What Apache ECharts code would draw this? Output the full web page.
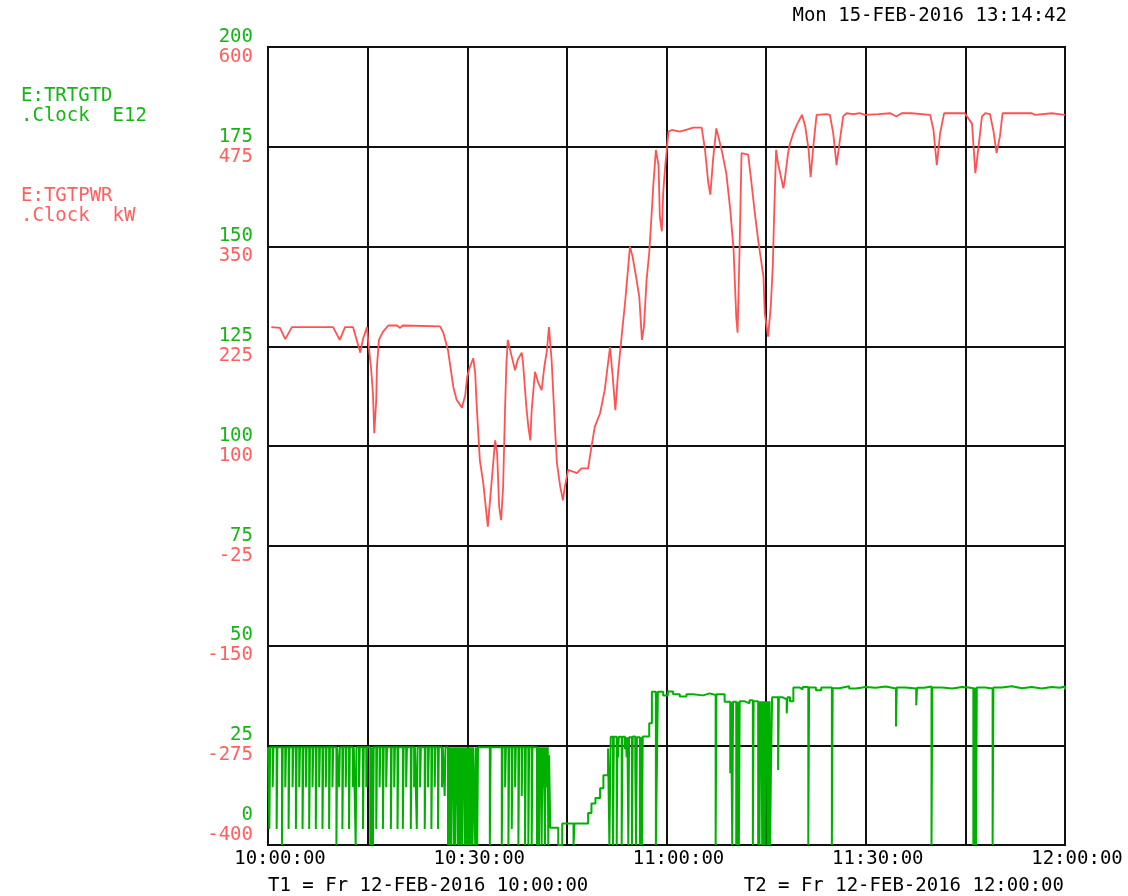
<!DOCTYPE html>
<html>
<head>
<meta charset="utf-8">
<script src="https://cdn.jsdelivr.net/npm/echarts@6/dist/echarts.min.js"></script>
<style>
html,body{margin:0;padding:0;background:#fff;}
#chart{width:1128px;height:896px;}
</style>
</head>
<body>
<div id="chart"></div>
<script>
// ---- data (x in minutes after 10:00:00 on 12-FEB-2016) ----
const xTickLabels = ['10:00:00', '10:30:00', '11:00:00', '11:30:00', '12:00:00'];
const greenAxisTicks = [0, 25, 50, 75, 100, 125, 150, 175, 200];
const redAxisTicks = [-400, -275, -150, -25, 100, 225, 350, 475, 600];

// E:TGTPWR .Clock kW  (red, second scale)
const redSeries = [
[0.5,249],[1.8,248],[2.6,234],[3.6,249],[9.8,249],[10.8,233],[11.6,249],[12.8,249],[13.9,217],[14.3,234],
[14.9,249],[15.1,230],[15.5,199],[15.8,166],[16.0,116],[16.3,158],[16.4,199],[16.7,233],[17.3,243],[18.1,251],
[19.4,251],[19.9,248],[20.3,251],[25.9,250],[26.4,242],[27.1,220],[27.9,174],[28.4,158],[29.2,148],[29.7,164],
[30.0,187],[30.4,199],[30.9,210],[31.2,191],[31.4,154],[31.9,82],[32.4,54],[33.1,-1],[33.4,29],[33.8,68],
[34.2,107],[34.5,91],[34.8,24],[35.1,7],[35.4,49],[35.7,149],[35.9,204],[36.1,233],[36.7,212],[37.2,195],
[37.6,208],[38.2,217],[38.4,204],[38.9,149],[39.2,124],[39.5,107],[39.7,145],[40.2,193],[40.7,179],[41.2,170],
[41.6,199],[42.0,220],[42.3,249],[42.7,208],[43.2,124],[43.5,79],[44.0,49],[44.4,32],[44.7,49],[45.2,70],
[45.9,68],[46.5,66],[47.2,72],[48.2,72],[48.7,99],[49.2,124],[50.0,141],[50.7,170],[51.2,204],[51.5,224],
[51.9,187],[52.3,145],[52.7,191],[53.3,242],[53.8,283],[54.5,350],[54.9,337],[55.5,308],[55.9,287],[56.3,233],
[56.6,249],[57.0,308],[57.4,342],[57.8,396],[58.0,425],[58.4,471],[58.8,452],[59.0,387],[59.3,369],[59.5,417],
[59.8,450],[60.3,494],[60.8,496],[62.0,494],[63.3,497],[64.0,499],[65.3,499],[65.8,471],[66.3,429],[66.6,415],
[67.0,458],[67.5,498],[67.8,488],[68.3,471],[69.0,442],[69.6,396],[70.1,346],[70.5,262],[70.7,242],[71.0,346],
[71.3,467],[72.3,465],[72.8,429],[73.3,392],[73.8,358],[74.6,312],[74.8,266],[75.3,237],[75.7,275],[76.0,325],
[76.2,387],[76.5,471],[76.8,454],[77.6,423],[77.8,433],[78.3,467],[78.6,479],[79.1,492],[79.6,502],[80.4,515],
[80.9,500],[81.4,471],[81.7,437],[82.1,475],[82.6,515],[84.1,516],[84.6,515],[85.1,492],[85.6,452],[86.1,483],
[86.6,513],[87.1,517],[88.1,516],[89.1,517],[89.9,515],[91.9,516],[93.7,517],[94.6,513],[95.4,517],[96.9,517],
[99.7,515],[100.2,496],[100.7,452],[101.2,492],[101.8,517],[104.9,517],[106.0,504],[106.5,442],[106.9,469],[107.5,513],
[108.0,517],[108.7,516],[109.2,496],[109.7,467],[110.2,488],[110.6,517],[115.0,517],[115.5,515],[118.0,517],[119.0,516],
[120.0,515]
];

// E:TRTGTD .Clock E12  (green, first scale), sampled values held until next sample
const greenSeries = [
[0,24.5],
[0.2,4],[0.32,24.5],[0.7,14.5],[0.82,24.5],[1.3,4],[1.42,24.5],[2.1,0],[2.22,24.5],[2.6,14.5],[2.72,24.5],
[3.1,4],[3.22,24.5],[3.7,14.5],[3.82,24.5],[4.2,4],[4.32,24.5],[4.7,14.5],[4.82,24.5],[5.2,4],[5.32,24.5],
[5.7,14.5],[5.82,24.5],[6.2,4],[6.32,24.5],[6.7,14.5],[6.82,24.5],[7.2,4],[7.32,24.5],[7.7,14.5],[7.82,24.5],
[8.2,4],[8.32,24.5],[8.7,14.5],[8.82,24.5],[9.2,4],[9.32,24.5],[9.7,14.5],[9.82,24.5],[10.3,0],[10.42,24.5],
[10.7,14.5],[10.82,24.5],[11.2,4],[11.32,24.5],[11.7,14.5],[11.82,24.5],[12.2,4],[12.32,24.5],[12.8,14.5],[12.92,24.5],
[13.2,0],[13.32,24.5],[13.7,14.5],[13.82,24.5],[14.3,4],[14.42,24.5],[14.8,14.5],[14.92,24.5],
[15.4,0],[15.5,24.5],[15.6,0],[15.7,24.5],[15.8,0],[15.92,24.5],
[16.3,4],[16.42,24.5],[16.8,14.5],[16.92,24.5],[17.3,4],[17.42,24.5],[17.8,14.5],[17.92,24.5],[18.5,4],[18.62,24.5],
[19.0,14.5],[19.12,24.5],[19.5,4],[19.62,24.5],[20.3,4],[20.42,24.5],[20.8,14.5],[20.92,24.5],[21.5,4],[21.62,24.5],
[22.0,14.5],[22.12,24.5],[22.4,4],[22.52,24.5],[22.9,14.5],[23.02,24.5],[23.6,4],[23.72,24.5],[24.1,14.5],[24.22,24.5],
[24.6,4],[24.72,24.5],[25.1,14.5],[25.22,24.5],[25.6,4],[25.72,24.5],[26.2,14.5],[26.32,24.5],[26.6,12.3],[26.72,24.5],
[27.1,0],[27.22,24.5],
[27.4,0],[27.52,24.5],[27.6,0],[27.72,24.5],[27.8,14],[27.92,24.5],[28.0,0],[28.12,24.5],[28.2,0],[28.32,24.5],
[28.4,10],[28.52,24.5],[28.6,0],[28.72,24.5],[28.8,0],[28.92,24.5],[29.0,0],[29.12,24.5],[29.2,0],[29.32,24.5],
[29.4,12],[29.52,24.5],[29.6,0],[29.72,24.5],[29.8,0],[29.92,24.5],[30.0,0],[30.12,24.5],[30.2,0],[30.32,24.5],
[30.4,0],[30.52,24.5],[30.6,0],[30.72,24.5],[30.8,0],[30.92,24.5],
[31.2,0],[31.32,24.5],[31.5,0],[31.62,24.5],[33.4,0],[33.52,24.5],[35.2,0],[35.32,24.5],[35.7,14.5],[35.82,24.5],
[36.2,0],[36.32,24.5],[36.7,4],[36.82,24.5],[37.2,14.5],[37.32,24.5],[37.7,0],[37.82,24.5],[38.2,12.3],[38.32,24.5],
[38.7,0],[38.82,24.5],[39.2,0],[39.32,24.5],[39.7,0],[39.82,24.5],[40.5,0],[40.62,24.5],
[40.8,0],[40.92,24.5],[41.0,14.5],[41.12,24.5],[41.2,0],[41.32,24.5],[41.4,14.5],[41.52,24.5],[41.7,0],[41.82,24.5],
[42.0,14.5],[42.12,24.5],[42.2,0],[42.32,22.5],
[42.5,4.3],[43.7,0],[44.3,5.4],[46.0,0],[46.15,5.4],
[48.2,8.0],[48.7,10.4],[49.3,11.8],[50.0,14.2],[50.5,17.5],[51.2,24.2],[51.4,0],[51.6,27.1],
[51.95,0],[52.07,27.1],[52.5,0],[52.62,27.1],[52.7,22],[52.82,27.1],[53.25,0],[53.37,27.1],[53.75,24],[53.87,27],
[54.0,22],[54.12,27],[54.25,0],[54.37,27],[54.8,0],[54.92,27.2],[55.3,20],[55.42,0],[55.54,27],[56.0,0],[56.12,27],
[56.3,0],[56.42,27.2],
[57.4,30.5],[57.8,38.4],[58.4,0],[58.55,0],[58.7,38.4],
[59.5,37.5],[60.2,38.5],[61.0,37.8],[62.0,37.2],[63.0,37.8],[64.0,37.5],[65.5,38.0],[66.5,37.6],[67.4,0],[67.52,37.8],
[68.75,35.9],[69.6,18],[69.72,35.9],[69.9,0],[70.02,35.9],[70.5,0],[70.62,35.9],[70.7,0],[70.82,35.9],[70.9,0],[71.02,36],
[71.8,35.5],[72.5,36.3],[73.0,0],[73.12,36],
[73.8,0],[73.92,36],[74.0,0],[74.12,36],[74.2,18],[74.32,36],[74.4,0],[74.52,36],[74.6,0],[74.72,36],[74.8,0],[74.92,36],
[75.0,18],[75.12,36],[75.2,0],[75.32,36],[75.4,0],[75.52,36],[75.6,0],[75.72,18],[75.9,37],
[76.8,18.8],[76.92,37],[77.5,36.5],[78.1,33],[78.22,37],[78.6,36],[79.1,39.5],
[80.0,39.0],[80.5,39.6],[81.35,0],[81.47,39.5],[82.5,38.8],[83.3,39.5],[84.9,0],[85.02,39.3],[86.0,39.8],[87.5,39.2],
[88.5,39.6],[90.0,39.4],[91.5,39.7],[93.0,39.2],[94.55,29.7],[94.67,39.5],[96.0,39.2],[97.6,35],[97.72,39.4],[98.8,39.7],
[99.9,0],[100.02,39.5],[101.5,39.2],[103.0,39.6],[104.5,39.5],[105.5,39.3],[106.2,0],[106.32,39.5],[106.4,0],[106.52,39.5],
[106.6,0],[106.72,39.5],[108.0,39.2],[109.1,0],[109.22,39.5],[110.5,39.8],[112.0,39.3],[113.5,39.6],[115.0,39.2],[116.5,39.6],
[118.0,39.4],[119.2,39.7],[120,39.0]
];

// ---- styling ----
const MONO = 'DejaVu Sans Mono';
const FS = 19;
const GREEN_TXT = '#16b416';
const RED_TXT = '#ff5f5f';
const GREEN_LINE = '#00b000';
const RED_LINE = '#ff5252';

const chart = echarts.init(document.getElementById('chart'), null, {renderer: 'canvas'});
chart.setOption({
  animation: false,
  backgroundColor: '#fff',
  grid: {left: 268, top: 47, width: 797, height: 798, show: true, borderColor: '#000', borderWidth: 2, backgroundColor: 'transparent'},
  xAxis: {
    type: 'value', min: 0, max: 120, interval: 15,
    axisLine: {show: false}, axisTick: {show: false},
    splitLine: {show: true, lineStyle: {color: '#111', width: 2}},
    axisLabel: {
      color: '#000', fontFamily: MONO, fontSize: FS, margin: 5, padding: [0, 0, 0, 24],
      showMinLabel: true, showMaxLabel: true, hideOverlap: false,
      formatter: v => (v % 30 === 0 ? xTickLabels[v / 30] : '')
    }
  },
  yAxis: [
    {
      type: 'value', min: greenAxisTicks[0], max: greenAxisTicks[greenAxisTicks.length - 1], interval: 25,
      position: 'left',
      axisLine: {show: false}, axisTick: {show: false},
      splitLine: {show: true, lineStyle: {color: '#111', width: 2}},
      axisLabel: {color: GREEN_TXT, fontFamily: MONO, fontSize: FS, lineHeight: 20, margin: 15, verticalAlign: 'middle',
        showMinLabel: true, showMaxLabel: true, hideOverlap: false,
        formatter: v => (v === greenAxisTicks[0] ? v + '\n \n \n ' : v + '\n ')}
    },
    {
      type: 'value', min: redAxisTicks[0], max: redAxisTicks[redAxisTicks.length - 1], interval: 125,
      position: 'left', offset: 0,
      axisLine: {show: false}, axisTick: {show: false}, splitLine: {show: false},
      axisLabel: {color: RED_TXT, fontFamily: MONO, fontSize: FS, lineHeight: 20, margin: 15, verticalAlign: 'middle',
        showMinLabel: true, showMaxLabel: true, hideOverlap: false,
        formatter: v => (v === redAxisTicks[0] ? ' \n' + v + '\n \n ' : ' \n' + v)}
    }
  ],
  series: [
    {
      name: 'E:TRTGTD', type: 'line', yAxisIndex: 0, data: greenSeries, step: 'end',
      showSymbol: false, symbol: 'none', lineStyle: {color: GREEN_LINE, width: 2}, z: 3
    },
    {
      name: 'E:TGTPWR', type: 'line', yAxisIndex: 1, data: redSeries,
      showSymbol: false, symbol: 'none', lineStyle: {color: RED_LINE, width: 1.8}, z: 4
    }
  ],
  graphic: [
    {type: 'text', x: 1067, y: 16, style: {text: 'Mon 15-FEB-2016 13:14:42', font: FS + 'px ' + MONO, fill: '#000', textAlign: 'right', textVerticalAlign: 'middle'}},
    {type: 'text', x: 21, y: 96, style: {text: 'E:TRTGTD', font: FS + 'px ' + MONO, fill: GREEN_TXT, textAlign: 'left', textVerticalAlign: 'middle'}},
    {type: 'text', x: 21, y: 116, style: {text: '.Clock  E12', font: FS + 'px ' + MONO, fill: GREEN_TXT, textAlign: 'left', textVerticalAlign: 'middle'}},
    {type: 'text', x: 21, y: 196, style: {text: 'E:TGTPWR', font: FS + 'px ' + MONO, fill: RED_TXT, textAlign: 'left', textVerticalAlign: 'middle'}},
    {type: 'text', x: 21, y: 216, style: {text: '.Clock  kW', font: FS + 'px ' + MONO, fill: RED_TXT, textAlign: 'left', textVerticalAlign: 'middle'}},
    {type: 'text', x: 268, y: 886, style: {text: 'T1 = Fr 12-FEB-2016 10:00:00', font: FS + 'px ' + MONO, fill: '#000', textAlign: 'left', textVerticalAlign: 'middle'}},
    {type: 'text', x: 1064, y: 886, style: {text: 'T2 = Fr 12-FEB-2016 12:00:00', font: FS + 'px ' + MONO, fill: '#000', textAlign: 'right', textVerticalAlign: 'middle'}}
  ]
});
</script>
</body>
</html>
